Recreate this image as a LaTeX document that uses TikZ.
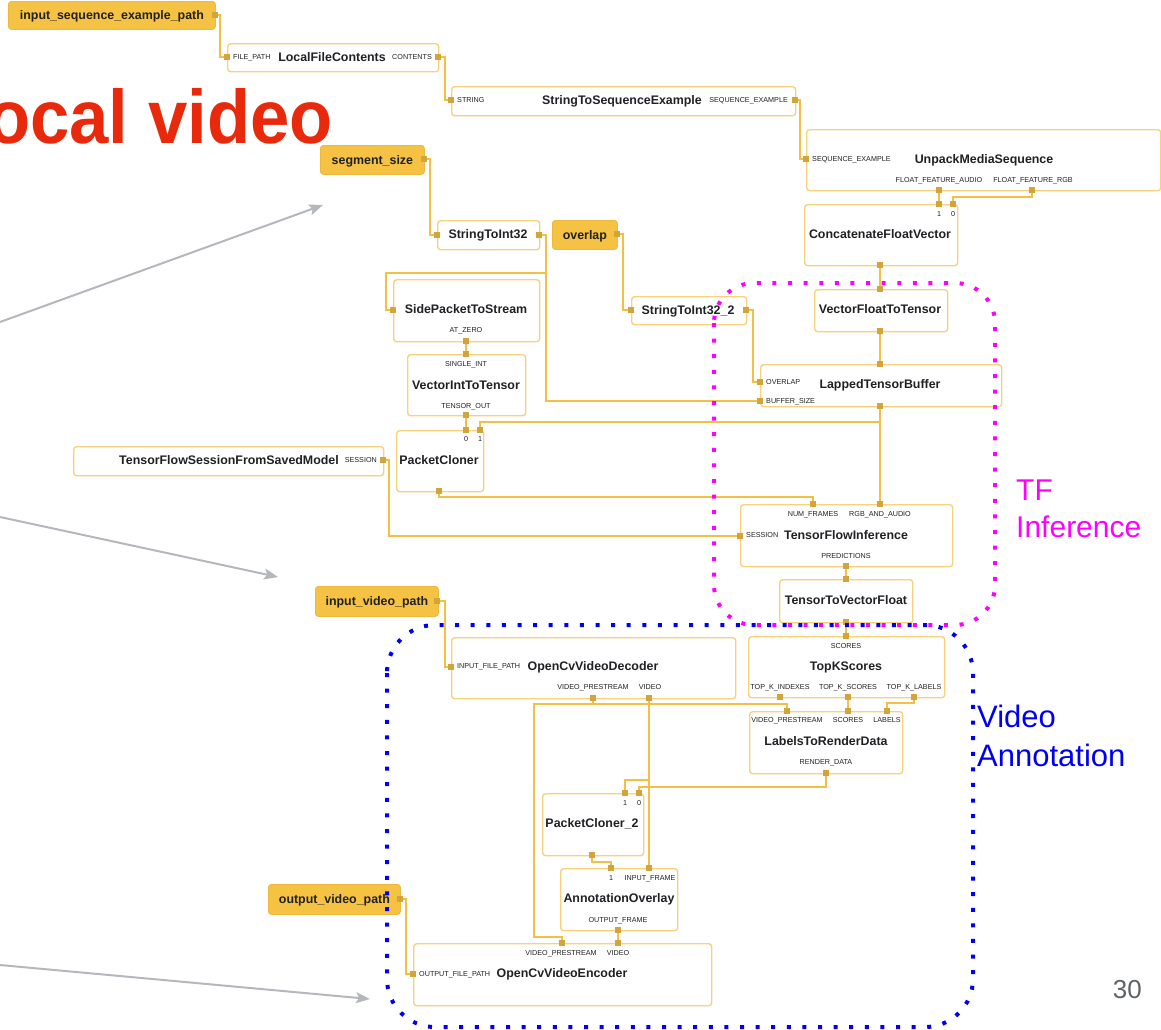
\documentclass[tikz,border=0pt]{standalone}
\usepackage{fontspec}
\setmainfont{Liberation Sans}
\usetikzlibrary{arrows.meta}
\pgfdeclarelayer{wires}
\pgfdeclarelayer{marks}
\pgfsetlayers{wires,main,marks}

\definecolor{boxline}{HTML}{F7D27C}
\definecolor{srcfill}{HTML}{F6C244}
\definecolor{srcline}{HTML}{EDB93E}
\definecolor{wirecol}{HTML}{F4BF45}
\definecolor{portcol}{HTML}{D3A43A}
\definecolor{ink}{HTML}{202124}
\definecolor{greycol}{HTML}{B4B8BD}
\definecolor{headred}{HTML}{E8290B}
\definecolor{tfmag}{HTML}{FF00FF}
\definecolor{vablue}{HTML}{0000F0}
\definecolor{pagenum}{HTML}{5F6368}

\tikzset{
  box/.style={draw=boxline, line width=1.4pt, fill=white, rounded corners=3pt,
    anchor=north west, inner sep=0pt},
  srcbox/.style={draw=srcline, line width=0.8pt, fill=srcfill, rounded corners=3pt,
    anchor=north west, inner sep=0pt, text=ink,
    font=\bfseries\fontsize{12.4}{14}\selectfont, text height=9pt, text depth=0pt},
  port/.style={fill=portcol, minimum size=6.5pt, inner sep=0pt, outer sep=0pt},
  ttl/.style={font=\bfseries\fontsize{12.4}{14}\selectfont, text=ink, inner sep=0pt,
    text height=9pt, text depth=0pt},
  plab/.style={font=\fontsize{7.2}{8}\selectfont, text=ink, inner sep=0pt,
    text height=5.2pt, text depth=0pt},
  wire/.style={draw=wirecol, line width=2.8pt},
  pointer/.style={draw=greycol, line width=2pt, -{Stealth[length=14pt,width=11pt,inset=3pt]}},
  region/.style={line width=4pt, dash pattern=on 4pt off 11.6pt, line cap=butt},
}

\begin{document}
\begin{tikzpicture}[x=1pt,y=-1pt]
\useasboundingbox (0,0) rectangle (1161,1029);

% ---------------- slide heading and page number
\node[anchor=base east, inner sep=0pt, text=headred,
  font=\bfseries\fontsize{76}{80}\selectfont] (heading) at (333,143)
  {\scalebox{0.93}[1]{ocal video}};
\node[anchor=base east, inner sep=0pt, text=pagenum,
  font=\fontsize{26}{30}\selectfont] (pnum) at (1142,998) {30};

% ---------------- side packets (inputs)
\node[srcbox, minimum width=207pt, minimum height=28pt] (isep) at (8,1) {input\_sequence\_example\_path};
\node[port] (isep-o) at (215,15) {};

\node[srcbox, minimum width=104pt, minimum height=29pt] (seg) at (320,145) {segment\_size};
\node[port] (seg-o) at (424,159) {};

\node[srcbox, minimum width=65pt, minimum height=29pt] (ovl) at (552,220) {overlap};
\node[port] (ovl-o) at (617,234) {};

\node[srcbox, minimum width=123pt, minimum height=30pt] (ivp) at (315,586) {input\_video\_path};
\node[port] (ivp-o) at (437,601) {};

\node[srcbox, minimum width=132pt, minimum height=30pt] (ovp) at (268,884) {output\_video\_path};
\node[port] (ovp-o) at (400,899) {};

% ---------------- LocalFileContents
\node[box, minimum width=211pt, minimum height=28pt] (lfc) at (227,43) {};
\node[port] (lfc-i) at (227,57) {};
\node[port] (lfc-o) at (438,57) {};
\node[plab, anchor=west] (lfc-il) at (233,57) {FILE\_PATH};
\node[ttl] (lfc-t) at (332,57) {LocalFileContents};
\node[plab, anchor=east] (lfc-ol) at (432,57) {CONTENTS};

% ---------------- StringToSequenceExample
\node[box, minimum width=344pt, minimum height=29pt] (s2s) at (451,86) {};
\node[port] (s2s-i) at (451,100) {};
\node[port] (s2s-o) at (795,100) {};
\node[plab, anchor=west] (s2s-il) at (457,100) {STRING};
\node[ttl] (s2s-t) at (622,100) {StringToSequenceExample};
\node[plab, anchor=east] (s2s-ol) at (788,100) {SEQUENCE\_EXAMPLE};

% ---------------- UnpackMediaSequence
\node[box, minimum width=354pt, minimum height=61pt] (ums) at (806,129) {};
\node[port] (ums-i) at (806,159) {};
\node[port] (ums-a) at (939,190) {};
\node[port] (ums-r) at (1032,190) {};
\node[plab, anchor=west] (ums-il) at (812,159) {SEQUENCE\_EXAMPLE};
\node[ttl] (ums-t) at (984,159) {UnpackMediaSequence};
\node[plab] (ums-al) at (939,180) {FLOAT\_FEATURE\_AUDIO};
\node[plab] (ums-rl) at (1033,180) {FLOAT\_FEATURE\_RGB};

% ---------------- ConcatenateFloatVector
\node[box, minimum width=153pt, minimum height=61pt] (cfv) at (804,204) {};
\node[port] (cfv-i1) at (939,204) {};
\node[port] (cfv-i0) at (953,204) {};
\node[port] (cfv-o) at (880,265) {};
\node[plab] (cfv-l1) at (939,214) {1};
\node[plab] (cfv-l0) at (953,214) {0};
\node[ttl] (cfv-t) at (880,234) {ConcatenateFloatVector};

% ---------------- VectorFloatToTensor
\node[box, minimum width=133pt, minimum height=42pt] (vft) at (814,289) {};
\node[port] (vft-i) at (880,289) {};
\node[port] (vft-o) at (880,331) {};
\node[ttl] (vft-t) at (880,309) {VectorFloatToTensor};

% ---------------- LappedTensorBuffer
\node[box, minimum width=241pt, minimum height=42pt] (ltb) at (760,364) {};
\node[port] (ltb-i) at (880,364) {};
\node[port] (ltb-ov) at (760,382) {};
\node[port] (ltb-bs) at (760,401) {};
\node[port] (ltb-o) at (880,406) {};
\node[plab, anchor=west] (ltb-ovl) at (766,382) {OVERLAP};
\node[plab, anchor=west] (ltb-bsl) at (766,401) {BUFFER\_SIZE};
\node[ttl] (ltb-t) at (880,384) {LappedTensorBuffer};

% ---------------- StringToInt32
\node[box, minimum width=102pt, minimum height=29pt] (s2i) at (437,220) {};
\node[port] (s2i-i) at (437,235) {};
\node[port] (s2i-o) at (539,235) {};
\node[ttl] (s2i-t) at (488,234) {StringToInt32};

% ---------------- StringToInt32_2
\node[box, minimum width=115pt, minimum height=28pt] (s2j) at (631,296) {};
\node[port] (s2j-i) at (631,310) {};
\node[port] (s2j-o) at (746,310) {};
\node[ttl] (s2j-t) at (688,310) {StringToInt32\_2};

% ---------------- SidePacketToStream
\node[box, minimum width=146pt, minimum height=62pt] (sps) at (393,279) {};
\node[port] (sps-i) at (393,310) {};
\node[port] (sps-o) at (466,341) {};
\node[ttl] (sps-t) at (466,309) {SidePacketToStream};
\node[plab] (sps-ol) at (466,330) {AT\_ZERO};

% ---------------- VectorIntToTensor
\node[box, minimum width=118pt, minimum height=61pt] (vit) at (407,354) {};
\node[port] (vit-i) at (466,354) {};
\node[port] (vit-o) at (466,415) {};
\node[plab] (vit-il) at (466,364) {SINGLE\_INT};
\node[ttl] (vit-t) at (466,385) {VectorIntToTensor};
\node[plab] (vit-ol) at (466,406) {TENSOR\_OUT};

% ---------------- PacketCloner
\node[box, minimum width=87pt, minimum height=61pt] (pc) at (396,430) {};
\node[port] (pc-i0) at (466,430) {};
\node[port] (pc-i1) at (480,430) {};
\node[port] (pc-o) at (439,491) {};
\node[plab] (pc-l0) at (466,439) {0};
\node[plab] (pc-l1) at (480,439) {1};
\node[ttl] (pc-t) at (439,460) {PacketCloner};

% ---------------- TensorFlowSessionFromSavedModel
\node[box, minimum width=310pt, minimum height=29pt] (tfs) at (73,446) {};
\node[port] (tfs-o) at (383,460) {};
\node[ttl, anchor=east] (tfs-t) at (339,460) {TensorFlowSessionFromSavedModel};
\node[plab, anchor=east] (tfs-ol) at (377,460) {SESSION};

% ---------------- TensorFlowInference
\node[box, minimum width=212pt, minimum height=62pt] (tfi) at (740,504) {};
\node[port] (tfi-nf) at (813,504) {};
\node[port] (tfi-rgb) at (880,504) {};
\node[port] (tfi-s) at (740,536) {};
\node[port] (tfi-o) at (846,566) {};
\node[plab] (tfi-nfl) at (813,514) {NUM\_FRAMES};
\node[plab] (tfi-rgbl) at (880,514) {RGB\_AND\_AUDIO};
\node[plab, anchor=west] (tfi-sl) at (746,535) {SESSION};
\node[ttl] (tfi-t) at (846,535) {TensorFlowInference};
\node[plab] (tfi-ol) at (846,556) {PREDICTIONS};

% ---------------- TensorToVectorFloat
\node[box, minimum width=133pt, minimum height=43pt] (ttv) at (779,579) {};
\node[port] (ttv-i) at (846,579) {};
\node[port] (ttv-o) at (846,622) {};
\node[ttl] (ttv-t) at (846,600) {TensorToVectorFloat};

% ---------------- OpenCvVideoDecoder
\node[box, minimum width=284pt, minimum height=61pt] (ocd) at (451,637) {};
\node[port] (ocd-i) at (451,667) {};
\node[port] (ocd-vp) at (593,698) {};
\node[port] (ocd-v) at (649,698) {};
\node[plab, anchor=west] (ocd-il) at (457,666) {INPUT\_FILE\_PATH};
\node[ttl] (ocd-t) at (593,666) {OpenCvVideoDecoder};
\node[plab] (ocd-vpl) at (593,687) {VIDEO\_PRESTREAM};
\node[plab] (ocd-vl) at (650,687) {VIDEO};

% ---------------- TopKScores
\node[box, minimum width=196pt, minimum height=61pt] (tks) at (748,636) {};
\node[port] (tks-i) at (846,636) {};
\node[port] (tks-ix) at (780,697) {};
\node[port] (tks-sc) at (848,697) {};
\node[port] (tks-lb) at (914,697) {};
\node[plab] (tks-il) at (846,646) {SCORES};
\node[ttl] (tks-t) at (846,666) {TopKScores};
\node[plab] (tks-ixl) at (780,687) {TOP\_K\_INDEXES};
\node[plab] (tks-scl) at (848,687) {TOP\_K\_SCORES};
\node[plab] (tks-lbl) at (914,687) {TOP\_K\_LABELS};

% ---------------- LabelsToRenderData
\node[box, minimum width=153pt, minimum height=62pt] (l2r) at (749,711) {};
\node[port] (l2r-vp) at (787,711) {};
\node[port] (l2r-sc) at (848,711) {};
\node[port] (l2r-lb) at (887,711) {};
\node[port] (l2r-o) at (826,773) {};
\node[plab] (l2r-vpl) at (787,720) {VIDEO\_PRESTREAM};
\node[plab] (l2r-scl) at (848,720) {SCORES};
\node[plab] (l2r-lbl) at (887,720) {LABELS};
\node[ttl] (l2r-t) at (826,741) {LabelsToRenderData};
\node[plab] (l2r-ol) at (826,762) {RENDER\_DATA};

% ---------------- PacketCloner_2
\node[box, minimum width=101pt, minimum height=62pt] (pcb) at (542,793) {};
\node[port] (pcb-i1) at (625,793) {};
\node[port] (pcb-i0) at (639,793) {};
\node[port] (pcb-o) at (592,855) {};
\node[plab] (pcb-l1) at (625,803) {1};
\node[plab] (pcb-l0) at (639,803) {0};
\node[ttl] (pcb-t) at (592,823) {PacketCloner\_2};

% ---------------- AnnotationOverlay
\node[box, minimum width=117pt, minimum height=62pt] (ao) at (560,868) {};
\node[port] (ao-i1) at (611,868) {};
\node[port] (ao-fr) at (649,868) {};
\node[port] (ao-o) at (618,930) {};
\node[plab] (ao-l1) at (611,878) {1};
\node[plab] (ao-frl) at (650,878) {INPUT\_FRAME};
\node[ttl] (ao-t) at (619,898) {AnnotationOverlay};
\node[plab] (ao-ol) at (618,920) {OUTPUT\_FRAME};

% ---------------- OpenCvVideoEncoder
\node[box, minimum width=298pt, minimum height=62pt] (oce) at (413,943) {};
\node[port] (oce-vp) at (562,943) {};
\node[port] (oce-v) at (618,943) {};
\node[port] (oce-i) at (413,974) {};
\node[plab] (oce-vpl) at (561,953) {VIDEO\_PRESTREAM};
\node[plab] (oce-vl) at (618,953) {VIDEO};
\node[plab, anchor=west] (oce-il) at (419,974) {OUTPUT\_FILE\_PATH};
\node[ttl] (oce-t) at (562,973) {OpenCvVideoEncoder};

% ---------------- routing points
\coordinate (spl) at (546,273);
\coordinate (vpj) at (593,704);
\coordinate (vpturn) at (534,937);
\coordinate (vj) at (649,780);

% ---------------- connectors
\begin{pgfonlayer}{wires}
\draw[wire] (isep-o.center) -- ++(5,0) |- (lfc-i.center);
\draw[wire] (lfc-o.center) -- ++(7,0) |- (s2s-i.center);
\draw[wire] (s2s-o.center) -- ++(5,0) |- (ums-i.center);
\draw[wire] (ums-a.center) -- (cfv-i1.center);
\draw[wire] (ums-r.center) -- ++(0,7) -| (cfv-i0.center);
\draw[wire] (cfv-o.center) -- (vft-i.center);
\draw[wire] (vft-o.center) -- (ltb-i.center);
\draw[wire] (seg-o.center) -- ++(6,0) |- (s2i-i.center);
\draw[wire] (s2i-o.center) -| (spl) -| ++(-160,37) -- (sps-i.center);
\draw[wire] (spl) |- (ltb-bs.center);
\draw[wire] (ovl-o.center) -- ++(6,0) |- (s2j-i.center);
\draw[wire] (s2j-o.center) -- ++(7,0) |- (ltb-ov.center);
\draw[wire] (sps-o.center) -- (vit-i.center);
\draw[wire] (vit-o.center) -- (pc-i0.center);
\draw[wire] (ltb-o.center) -- ++(0,16) -| (pc-i1.center);
\draw[wire] (ltb-o.center) -- (tfi-rgb.center);
\draw[wire] (pc-o.center) -- ++(0,6) -| (tfi-nf.center);
\draw[wire] (tfs-o.center) -- ++(6,0) |- (tfi-s.center);
\draw[wire] (tfi-o.center) -- (ttv-i.center);
\draw[wire] (ttv-o.center) -- (tks-i.center);
\draw[wire] (ivp-o.center) -- ++(8,0) |- (ocd-i.center);
\draw[wire] (tks-sc.center) -- (l2r-sc.center);
\draw[wire] (tks-lb.center) -- ++(0,6) -| (l2r-lb.center);
\draw[wire] (ocd-vp.center) -- (vpj) -| (l2r-vp.center);
\draw[wire] (vpj) -| (vpturn) -| (oce-vp.center);
\draw[wire] (ocd-v.center) -- (ao-fr.center);
\draw[wire] (vj) -| (pcb-i1.center);
\draw[wire] (l2r-o.center) -- ++(0,14) -| (pcb-i0.center);
\draw[wire] (pcb-o.center) -- ++(0,7) -| (ao-i1.center);
\draw[wire] (ao-o.center) -- (oce-v.center);
\draw[wire] (ovp-o.center) -- ++(6,0) |- (oce-i.center);
\end{pgfonlayer}

% ---------------- grey call-out arrows
\coordinate (a1s) at (0,322);   \coordinate (a1e) at (323,205);
\coordinate (a2s) at (0,517);   \coordinate (a2e) at (278,577);
\coordinate (a3s) at (0,965);   \coordinate (a3e) at (370,999);
\draw[pointer] (a1s) -- (a1e);
\draw[pointer] (a2s) -- (a2e);
\draw[pointer] (a3s) -- (a3e);

% ---------------- dotted groups with their captions
\begin{pgfonlayer}{marks}
\draw[region, draw=tfmag, rounded corners=40pt] (714,283) rectangle (995,625);
\draw[region, draw=vablue, rounded corners=48pt] (387,625) rectangle (973,1027);
\end{pgfonlayer}
\node[anchor=base west, inner sep=0pt, text=tfmag, font=\fontsize{30}{36}\selectfont] (tf1) at (1016,500) {TF};
\node[anchor=base west, inner sep=0pt, text=tfmag, font=\fontsize{30}{36}\selectfont] (tf2) at (1016,537) {Inference};
\node[anchor=base west, inner sep=0pt, text=vablue, font=\fontsize{31}{36}\selectfont] (va1) at (977,727) {Video};
\node[anchor=base west, inner sep=0pt, text=vablue, font=\fontsize{31}{36}\selectfont] (va2) at (977,766) {Annotation};

\end{tikzpicture}
\end{document}
